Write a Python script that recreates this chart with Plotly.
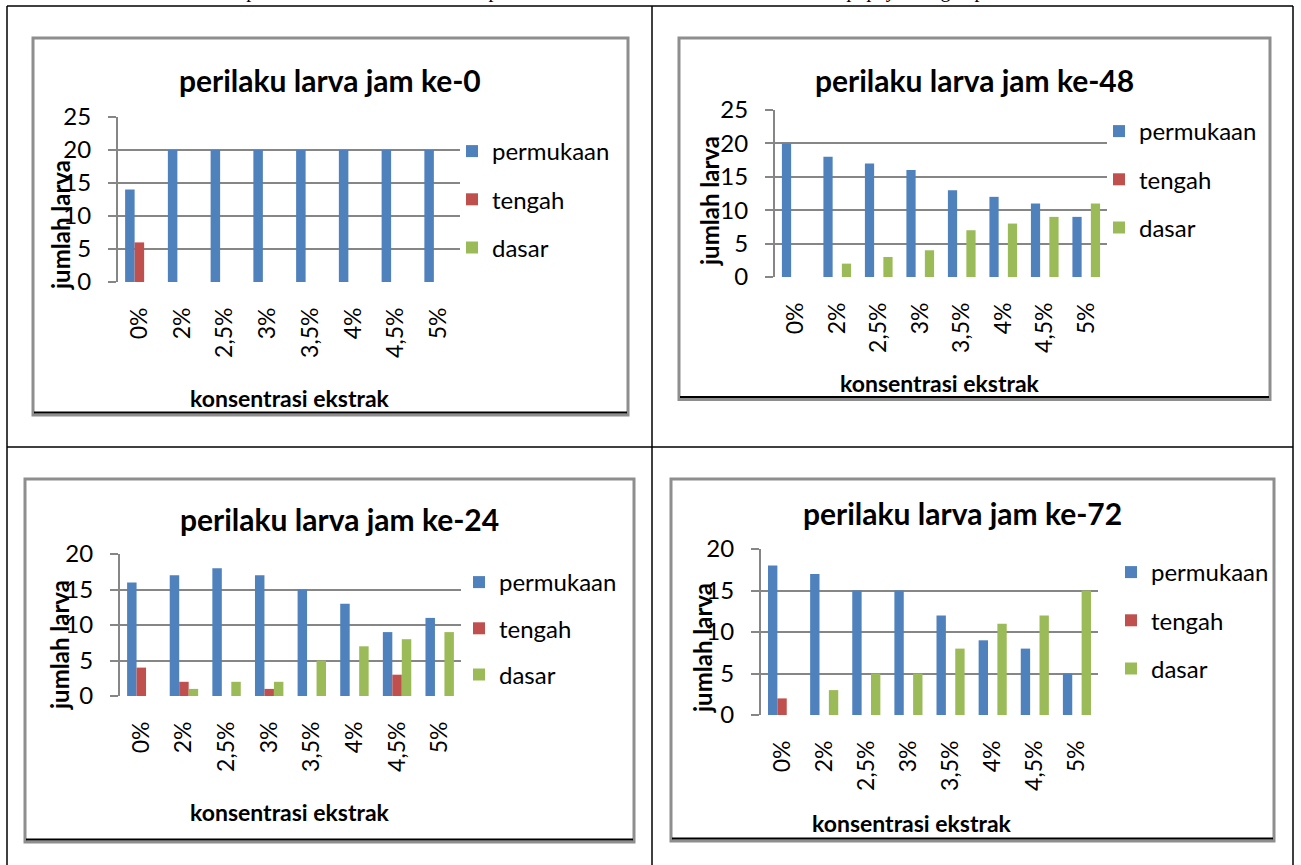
import plotly.graph_objects as go

W, H = 1301, 865

konsentrasi = ["0%", "2%", "2,5%", "3%", "3,5%", "4%", "4,5%", "5%"]
seri = ["permukaan", "tengah", "dasar"]
warna = ["#4F81BD", "#C0504D", "#9BBB59"]

# jumlah larva per posisi (permukaan / tengah / dasar)
jam0_permukaan = [14, 20, 20, 20, 20, 20, 20, 20]
jam0_tengah = [6, 0, 0, 0, 0, 0, 0, 0]
jam0_dasar = [0, 0, 0, 0, 0, 0, 0, 0]

jam48_permukaan = [20, 18, 17, 16, 13, 12, 11, 9]
jam48_tengah = [0, 0, 0, 0, 0, 0, 0, 0]
jam48_dasar = [0, 2, 3, 4, 7, 8, 9, 11]

jam24_permukaan = [16, 17, 18, 17, 15, 13, 9, 11]
jam24_tengah = [4, 2, 0, 1, 0, 0, 3, 0]
jam24_dasar = [0, 1, 2, 2, 5, 7, 8, 9]

jam72_permukaan = [18, 17, 15, 15, 12, 9, 8, 5]
jam72_tengah = [2, 0, 0, 0, 0, 0, 0, 0]
jam72_dasar = [0, 3, 5, 5, 8, 11, 12, 15]

judul = ["perilaku larva jam ke-0", "perilaku larva jam ke-48",
         "perilaku larva jam ke-24", "perilaku larva jam ke-72"]
nilai = [
    [jam0_permukaan, jam0_tengah, jam0_dasar],
    [jam48_permukaan, jam48_tengah, jam48_dasar],
    [jam24_permukaan, jam24_tengah, jam24_dasar],
    [jam72_permukaan, jam72_tengah, jam72_dasar],
]
ymax = [25, 25, 20, 20]

# page geometry in pixels
panels = [
    dict(frame=(33, 38, 628, 415), plot=(118, 117, 460, 282), title=(330, 80),
         xt=(290, 398), yt=(61, 225), leg=(466, 151), gap=14),
    dict(frame=(679, 38, 1270, 399.5), plot=(775, 110, 1107, 277), title=(974, 80),
         xt=(940, 383), yt=(710, 201), leg=(1113, 131), gap=14),
    dict(frame=(25, 479, 634, 842), plot=(120, 554, 461, 696), title=(339, 519),
         xt=(290, 812), yt=(59, 645), leg=(473, 582), gap=12),
    dict(frame=(671, 479, 1274, 841), plot=(761, 549, 1098, 715), title=(963, 513),
         xt=(912, 823), yt=(702, 648), leg=(1125, 572), gap=14),
]

FONT = "Lato"
GRID = "#868686"


def fx(x):
    return x / W


def fy(y):
    return 1 - y / H


fig = go.Figure()
shapes = []
annotations = []
layout = {}

for i, p in enumerate(panels):
    n = "" if i == 0 else str(i + 1)
    xa, ya, leg = "x" + n, "y" + n, "legend" + n
    for name, vals, col in zip(seri, nilai[i], warna):
        fig.add_trace(go.Bar(
            x=konsentrasi, y=vals, name=name, marker=dict(color=col, line=dict(width=0)),
            xaxis=xa, yaxis=ya, legend=leg, legendgroup=f"{leg}-{name}",
        ))
    x0, y0, x1, y1 = p["plot"]
    layout["xaxis" + n] = dict(
        domain=[fx(x0), fx(x1)], anchor=ya, type="category", showgrid=False,
        showline=False, zeroline=False, ticks="", tickangle=-90, automargin=False,
        ticklabelstandoff=20, tickfont=dict(family=FONT, size=23, color="#000"),
        fixedrange=True,
    )
    layout["yaxis" + n] = dict(
        domain=[fy(y1), fy(y0)], anchor=xa, range=[0, ymax[i]], dtick=5,
        showgrid=True, gridcolor=GRID, gridwidth=2, zeroline=False,
        showline=True, linecolor=GRID, linewidth=2, automargin=False,
        ticks="outside", ticklen=8, tickwidth=2, tickcolor=GRID,
        ticklabelstandoff=12, tickfont=dict(family=FONT, size=24, color="#000"),
        fixedrange=True,
    )
    lx, ly = p["leg"]
    layout[leg] = dict(
        x=fx(lx - 14), y=fy(ly - 22), xanchor="left", yanchor="top",
        font=dict(family=FONT, size=24, color="#000"), traceorder="grouped",
        tracegroupgap=p["gap"], bgcolor="rgba(0,0,0,0)", borderwidth=0,
        itemclick=False, itemdoubleclick=False,
    )

    # chart frame with its dark bottom rule
    fx0, fy0, fx1, fy1 = p["frame"]
    shapes.append(dict(type="rect", xref="paper", yref="paper",
                       x0=fx(fx0), x1=fx(fx1), y0=fy(fy1), y1=fy(fy0),
                       line=dict(color="#8e8e8e", width=3), layer="below"))
    shapes.append(dict(type="line", xref="paper", yref="paper",
                       x0=fx(fx0 + 1), x1=fx(fx1 - 1), y0=fy(fy1 - 2.5), y1=fy(fy1 - 2.5),
                       line=dict(color="#000", width=2)))

    tx, ty = p["title"]
    annotations.append(dict(text=judul[i], xref="paper", yref="paper", x=fx(tx), y=fy(ty),
                            xanchor="center", yanchor="middle", showarrow=False,
                            font=dict(family=FONT, size=30, color="#000", weight="bold")))
    ax, ay = p["xt"]
    annotations.append(dict(text="konsentrasi ekstrak", xref="paper", yref="paper",
                            x=fx(ax), y=fy(ay), xanchor="center", yanchor="middle",
                            showarrow=False,
                            font=dict(family=FONT, size=23, color="#000", weight="bold")))
    bx, by = p["yt"]
    annotations.append(dict(text="jumlah larva", xref="paper", yref="paper",
                            x=fx(bx), y=fy(by), xanchor="center", yanchor="middle",
                            textangle=-90, showarrow=False,
                            font=dict(family=FONT, size=24, color="#000", weight="bold")))

# table rules
def rule(xa_, ya_, xb_, yb_):
    shapes.append(dict(type="line", xref="paper", yref="paper",
                       x0=fx(xa_), y0=fy(ya_), x1=fx(xb_), y1=fy(yb_),
                       line=dict(color="#000", width=1.5)))


rule(7, 6, 1293, 6)
rule(7, 6, 7, 865)
rule(1293, 6, 1293, 865)
rule(652, 6, 652, 865)
rule(7, 447, 1293, 447)

# table caption running off the top of the page
annotations.append(dict(
    text="Tabel 3. Grafik perilaku larva akibat aktivitas perilaku larva dari ekstrak daun dan buah <i>C. papaya</i> dengan pola atas ke bawah",
    xref="paper", yref="paper", x=fx(118), y=fy(4.5), xanchor="left", yanchor="bottom",
    showarrow=False, font=dict(family="Liberation Serif", size=20, color="#000")))

fig.update_layout(
    width=W, height=H, margin=dict(l=0, r=0, t=0, b=0, autoexpand=False),
    paper_bgcolor="#fff", plot_bgcolor="rgba(0,0,0,0)",
    bargap=0.333, bargroupgap=0, barmode="group",
    shapes=shapes, annotations=annotations, hovermode=False,
    **layout,
)

fig.write_html("out.html", config={"displayModeBar": False})
